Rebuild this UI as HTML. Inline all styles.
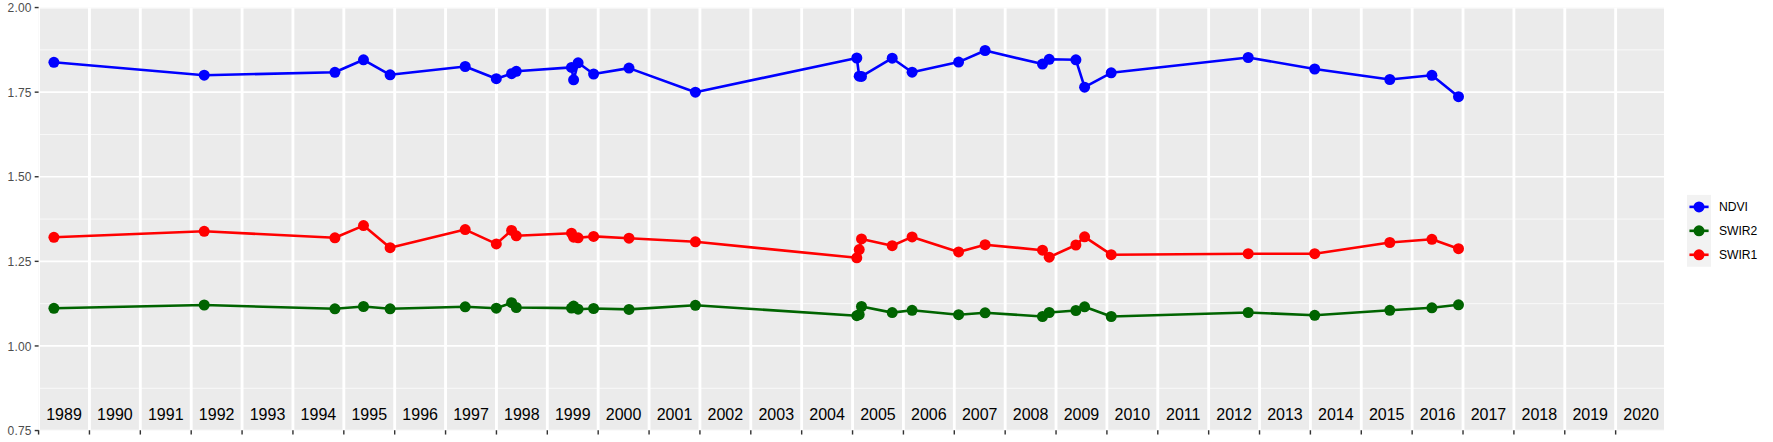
<!DOCTYPE html>
<html><head><meta charset="utf-8"><title>Index time series</title>
<style>
html,body{margin:0;padding:0;background:#fff;}
svg{display:block;}
text{font-family:"Liberation Sans",Arial,Helvetica,sans-serif;}
.yl{font-size:12px;fill:#4D4D4D;letter-spacing:0.22px;}
.xl{font-size:16px;fill:#000;text-anchor:middle;}
.lg{font-size:12.15px;fill:#000;}
</style></head><body>
<svg width="1773" height="442" viewBox="0 0 1773 442">
<rect width="1773" height="442" fill="#fff"/>
<defs><clipPath id="pc"><rect x="38.6" y="7.55" width="1625.4" height="423.0"/></clipPath></defs>
<rect x="38.6" y="7.55" width="1625.4" height="423.0" fill="#EBEBEB"/>
<g clip-path="url(#pc)">
<g stroke="#fff" stroke-width="0.71">
<line x1="38.6" x2="1664.0" y1="49.85" y2="49.85"/>
<line x1="38.6" x2="1664.0" y1="134.45" y2="134.45"/>
<line x1="38.6" x2="1664.0" y1="219.05" y2="219.05"/>
<line x1="38.6" x2="1664.0" y1="303.65" y2="303.65"/>
<line x1="38.6" x2="1664.0" y1="388.25" y2="388.25"/>
</g>
<g stroke="#fff" stroke-width="1.7">
<line x1="38.6" x2="1664.0" y1="7.55" y2="7.55"/>
<line x1="38.6" x2="1664.0" y1="92.15" y2="92.15"/>
<line x1="38.6" x2="1664.0" y1="176.75" y2="176.75"/>
<line x1="38.6" x2="1664.0" y1="261.35" y2="261.35"/>
<line x1="38.6" x2="1664.0" y1="345.95" y2="345.95"/>
<line x1="38.6" x2="1664.0" y1="430.55" y2="430.55"/>
</g>
<g stroke="#fff" stroke-width="2.85">
<line x1="38.58" x2="38.58" y1="7.55" y2="430.55"/>
<line x1="89.45" x2="89.45" y1="7.55" y2="430.55"/>
<line x1="140.33" x2="140.33" y1="7.55" y2="430.55"/>
<line x1="191.20" x2="191.20" y1="7.55" y2="430.55"/>
<line x1="242.07" x2="242.07" y1="7.55" y2="430.55"/>
<line x1="292.94" x2="292.94" y1="7.55" y2="430.55"/>
<line x1="343.82" x2="343.82" y1="7.55" y2="430.55"/>
<line x1="394.69" x2="394.69" y1="7.55" y2="430.55"/>
<line x1="445.56" x2="445.56" y1="7.55" y2="430.55"/>
<line x1="496.44" x2="496.44" y1="7.55" y2="430.55"/>
<line x1="547.31" x2="547.31" y1="7.55" y2="430.55"/>
<line x1="598.18" x2="598.18" y1="7.55" y2="430.55"/>
<line x1="649.06" x2="649.06" y1="7.55" y2="430.55"/>
<line x1="699.93" x2="699.93" y1="7.55" y2="430.55"/>
<line x1="750.80" x2="750.80" y1="7.55" y2="430.55"/>
<line x1="801.67" x2="801.67" y1="7.55" y2="430.55"/>
<line x1="852.55" x2="852.55" y1="7.55" y2="430.55"/>
<line x1="903.42" x2="903.42" y1="7.55" y2="430.55"/>
<line x1="954.29" x2="954.29" y1="7.55" y2="430.55"/>
<line x1="1005.17" x2="1005.17" y1="7.55" y2="430.55"/>
<line x1="1056.04" x2="1056.04" y1="7.55" y2="430.55"/>
<line x1="1106.91" x2="1106.91" y1="7.55" y2="430.55"/>
<line x1="1157.79" x2="1157.79" y1="7.55" y2="430.55"/>
<line x1="1208.66" x2="1208.66" y1="7.55" y2="430.55"/>
<line x1="1259.53" x2="1259.53" y1="7.55" y2="430.55"/>
<line x1="1310.40" x2="1310.40" y1="7.55" y2="430.55"/>
<line x1="1361.28" x2="1361.28" y1="7.55" y2="430.55"/>
<line x1="1412.15" x2="1412.15" y1="7.55" y2="430.55"/>
<line x1="1463.02" x2="1463.02" y1="7.55" y2="430.55"/>
<line x1="1513.90" x2="1513.90" y1="7.55" y2="430.55"/>
<line x1="1564.77" x2="1564.77" y1="7.55" y2="430.55"/>
<line x1="1615.64" x2="1615.64" y1="7.55" y2="430.55"/>
</g>
<polyline points="53.9,62.3 204.2,75.2 334.9,72.3 363.5,59.8 390.1,74.8 465.2,66.5 496.3,78.7 511.6,73.7 516.3,71.3 571.5,67.4 573.6,79.8 578.1,62.8 593.6,74.0 629.0,68.1 695.4,92.2 856.8,58.0 859.2,76.2 861.5,76.4 892.2,58.2 912.1,72.2 958.6,62.1 985.1,50.5 1042.5,64.1 1049.2,59.3 1075.9,59.8 1084.6,87.2 1111.2,72.8 1248.2,57.5 1314.7,69.0 1389.8,79.5 1431.9,75.3 1458.5,96.7" fill="none" stroke="#0000FF" stroke-width="2.6" stroke-linejoin="round" stroke-linecap="butt"/>
<polyline points="53.9,237.3 204.2,231.3 334.9,237.8 363.5,225.6 390.1,247.7 465.2,229.6 496.3,243.9 511.6,230.4 516.3,235.8 571.5,233.2 573.6,237.2 578.1,237.8 593.6,236.4 629.0,238.2 695.4,241.8 856.8,257.8 859.2,249.6 861.5,238.9 892.2,245.7 912.1,236.9 958.6,251.9 985.1,244.7 1042.5,250.2 1049.2,257.2 1075.9,245.0 1084.6,236.8 1111.2,254.7 1248.2,253.7 1314.7,253.7 1389.8,242.5 1431.9,239.3 1458.5,248.7" fill="none" stroke="#FF0000" stroke-width="2.6" stroke-linejoin="round" stroke-linecap="butt"/>
<polyline points="53.9,308.3 204.2,305.0 334.9,308.8 363.5,306.5 390.1,308.8 465.2,306.8 496.3,308.2 511.6,302.7 516.3,307.5 571.5,308.1 573.6,306.1 578.1,309.2 593.6,308.5 629.0,309.4 695.4,305.3 856.8,315.7 859.2,314.6 861.5,306.5 892.2,312.6 912.1,310.3 958.6,314.7 985.1,312.8 1042.5,316.5 1049.2,312.5 1075.9,310.5 1084.6,306.8 1111.2,316.5 1248.2,312.5 1314.7,315.3 1389.8,310.3 1431.9,307.8 1458.5,304.8" fill="none" stroke="#006400" stroke-width="2.6" stroke-linejoin="round" stroke-linecap="butt"/>
<g fill="#0000FF">
<circle cx="53.9" cy="62.3" r="5.5"/>
<circle cx="204.2" cy="75.2" r="5.5"/>
<circle cx="334.9" cy="72.3" r="5.5"/>
<circle cx="363.5" cy="59.8" r="5.5"/>
<circle cx="390.1" cy="74.8" r="5.5"/>
<circle cx="465.2" cy="66.5" r="5.5"/>
<circle cx="496.3" cy="78.7" r="5.5"/>
<circle cx="511.6" cy="73.7" r="5.5"/>
<circle cx="516.3" cy="71.3" r="5.5"/>
<circle cx="571.5" cy="67.4" r="5.5"/>
<circle cx="573.6" cy="79.8" r="5.5"/>
<circle cx="578.1" cy="62.8" r="5.5"/>
<circle cx="593.6" cy="74.0" r="5.5"/>
<circle cx="629.0" cy="68.1" r="5.5"/>
<circle cx="695.4" cy="92.2" r="5.5"/>
<circle cx="856.8" cy="58.0" r="5.5"/>
<circle cx="859.2" cy="76.2" r="5.5"/>
<circle cx="861.5" cy="76.4" r="5.5"/>
<circle cx="892.2" cy="58.2" r="5.5"/>
<circle cx="912.1" cy="72.2" r="5.5"/>
<circle cx="958.6" cy="62.1" r="5.5"/>
<circle cx="985.1" cy="50.5" r="5.5"/>
<circle cx="1042.5" cy="64.1" r="5.5"/>
<circle cx="1049.2" cy="59.3" r="5.5"/>
<circle cx="1075.9" cy="59.8" r="5.5"/>
<circle cx="1084.6" cy="87.2" r="5.5"/>
<circle cx="1111.2" cy="72.8" r="5.5"/>
<circle cx="1248.2" cy="57.5" r="5.5"/>
<circle cx="1314.7" cy="69.0" r="5.5"/>
<circle cx="1389.8" cy="79.5" r="5.5"/>
<circle cx="1431.9" cy="75.3" r="5.5"/>
<circle cx="1458.5" cy="96.7" r="5.5"/>
</g>
<g fill="#FF0000">
<circle cx="53.9" cy="237.3" r="5.5"/>
<circle cx="204.2" cy="231.3" r="5.5"/>
<circle cx="334.9" cy="237.8" r="5.5"/>
<circle cx="363.5" cy="225.6" r="5.5"/>
<circle cx="390.1" cy="247.7" r="5.5"/>
<circle cx="465.2" cy="229.6" r="5.5"/>
<circle cx="496.3" cy="243.9" r="5.5"/>
<circle cx="511.6" cy="230.4" r="5.5"/>
<circle cx="516.3" cy="235.8" r="5.5"/>
<circle cx="571.5" cy="233.2" r="5.5"/>
<circle cx="573.6" cy="237.2" r="5.5"/>
<circle cx="578.1" cy="237.8" r="5.5"/>
<circle cx="593.6" cy="236.4" r="5.5"/>
<circle cx="629.0" cy="238.2" r="5.5"/>
<circle cx="695.4" cy="241.8" r="5.5"/>
<circle cx="856.8" cy="257.8" r="5.5"/>
<circle cx="859.2" cy="249.6" r="5.5"/>
<circle cx="861.5" cy="238.9" r="5.5"/>
<circle cx="892.2" cy="245.7" r="5.5"/>
<circle cx="912.1" cy="236.9" r="5.5"/>
<circle cx="958.6" cy="251.9" r="5.5"/>
<circle cx="985.1" cy="244.7" r="5.5"/>
<circle cx="1042.5" cy="250.2" r="5.5"/>
<circle cx="1049.2" cy="257.2" r="5.5"/>
<circle cx="1075.9" cy="245.0" r="5.5"/>
<circle cx="1084.6" cy="236.8" r="5.5"/>
<circle cx="1111.2" cy="254.7" r="5.5"/>
<circle cx="1248.2" cy="253.7" r="5.5"/>
<circle cx="1314.7" cy="253.7" r="5.5"/>
<circle cx="1389.8" cy="242.5" r="5.5"/>
<circle cx="1431.9" cy="239.3" r="5.5"/>
<circle cx="1458.5" cy="248.7" r="5.5"/>
</g>
<g fill="#006400">
<circle cx="53.9" cy="308.3" r="5.5"/>
<circle cx="204.2" cy="305.0" r="5.5"/>
<circle cx="334.9" cy="308.8" r="5.5"/>
<circle cx="363.5" cy="306.5" r="5.5"/>
<circle cx="390.1" cy="308.8" r="5.5"/>
<circle cx="465.2" cy="306.8" r="5.5"/>
<circle cx="496.3" cy="308.2" r="5.5"/>
<circle cx="511.6" cy="302.7" r="5.5"/>
<circle cx="516.3" cy="307.5" r="5.5"/>
<circle cx="571.5" cy="308.1" r="5.5"/>
<circle cx="573.6" cy="306.1" r="5.5"/>
<circle cx="578.1" cy="309.2" r="5.5"/>
<circle cx="593.6" cy="308.5" r="5.5"/>
<circle cx="629.0" cy="309.4" r="5.5"/>
<circle cx="695.4" cy="305.3" r="5.5"/>
<circle cx="856.8" cy="315.7" r="5.5"/>
<circle cx="859.2" cy="314.6" r="5.5"/>
<circle cx="861.5" cy="306.5" r="5.5"/>
<circle cx="892.2" cy="312.6" r="5.5"/>
<circle cx="912.1" cy="310.3" r="5.5"/>
<circle cx="958.6" cy="314.7" r="5.5"/>
<circle cx="985.1" cy="312.8" r="5.5"/>
<circle cx="1042.5" cy="316.5" r="5.5"/>
<circle cx="1049.2" cy="312.5" r="5.5"/>
<circle cx="1075.9" cy="310.5" r="5.5"/>
<circle cx="1084.6" cy="306.8" r="5.5"/>
<circle cx="1111.2" cy="316.5" r="5.5"/>
<circle cx="1248.2" cy="312.5" r="5.5"/>
<circle cx="1314.7" cy="315.3" r="5.5"/>
<circle cx="1389.8" cy="310.3" r="5.5"/>
<circle cx="1431.9" cy="307.8" r="5.5"/>
<circle cx="1458.5" cy="304.8" r="5.5"/>
</g>
</g>
<g stroke="#333333" stroke-width="1.42">
<line x1="34.70" x2="38.6" y1="7.55" y2="7.55"/>
<line x1="34.70" x2="38.6" y1="92.15" y2="92.15"/>
<line x1="34.70" x2="38.6" y1="176.75" y2="176.75"/>
<line x1="34.70" x2="38.6" y1="261.35" y2="261.35"/>
<line x1="34.70" x2="38.6" y1="345.95" y2="345.95"/>
<line x1="34.70" x2="38.6" y1="430.55" y2="430.55"/>
<line x1="38.58" x2="38.58" y1="430.25" y2="434.55"/>
<line x1="89.45" x2="89.45" y1="430.25" y2="434.55"/>
<line x1="140.33" x2="140.33" y1="430.25" y2="434.55"/>
<line x1="191.20" x2="191.20" y1="430.25" y2="434.55"/>
<line x1="242.07" x2="242.07" y1="430.25" y2="434.55"/>
<line x1="292.94" x2="292.94" y1="430.25" y2="434.55"/>
<line x1="343.82" x2="343.82" y1="430.25" y2="434.55"/>
<line x1="394.69" x2="394.69" y1="430.25" y2="434.55"/>
<line x1="445.56" x2="445.56" y1="430.25" y2="434.55"/>
<line x1="496.44" x2="496.44" y1="430.25" y2="434.55"/>
<line x1="547.31" x2="547.31" y1="430.25" y2="434.55"/>
<line x1="598.18" x2="598.18" y1="430.25" y2="434.55"/>
<line x1="649.06" x2="649.06" y1="430.25" y2="434.55"/>
<line x1="699.93" x2="699.93" y1="430.25" y2="434.55"/>
<line x1="750.80" x2="750.80" y1="430.25" y2="434.55"/>
<line x1="801.67" x2="801.67" y1="430.25" y2="434.55"/>
<line x1="852.55" x2="852.55" y1="430.25" y2="434.55"/>
<line x1="903.42" x2="903.42" y1="430.25" y2="434.55"/>
<line x1="954.29" x2="954.29" y1="430.25" y2="434.55"/>
<line x1="1005.17" x2="1005.17" y1="430.25" y2="434.55"/>
<line x1="1056.04" x2="1056.04" y1="430.25" y2="434.55"/>
<line x1="1106.91" x2="1106.91" y1="430.25" y2="434.55"/>
<line x1="1157.79" x2="1157.79" y1="430.25" y2="434.55"/>
<line x1="1208.66" x2="1208.66" y1="430.25" y2="434.55"/>
<line x1="1259.53" x2="1259.53" y1="430.25" y2="434.55"/>
<line x1="1310.40" x2="1310.40" y1="430.25" y2="434.55"/>
<line x1="1361.28" x2="1361.28" y1="430.25" y2="434.55"/>
<line x1="1412.15" x2="1412.15" y1="430.25" y2="434.55"/>
<line x1="1463.02" x2="1463.02" y1="430.25" y2="434.55"/>
<line x1="1513.90" x2="1513.90" y1="430.25" y2="434.55"/>
<line x1="1564.77" x2="1564.77" y1="430.25" y2="434.55"/>
<line x1="1615.64" x2="1615.64" y1="430.25" y2="434.55"/>
</g>
<text class="yl" x="7.5" y="12.15">2.00</text>
<text class="yl" x="7.5" y="96.75">1.75</text>
<text class="yl" x="7.5" y="181.35">1.50</text>
<text class="yl" x="7.5" y="265.95">1.25</text>
<text class="yl" x="7.5" y="350.55">1.00</text>
<text class="yl" x="7.5" y="435.15">0.75</text>
<text class="xl" x="64.02" y="419.6">1989</text>
<text class="xl" x="114.89" y="419.6">1990</text>
<text class="xl" x="165.76" y="419.6">1991</text>
<text class="xl" x="216.64" y="419.6">1992</text>
<text class="xl" x="267.51" y="419.6">1993</text>
<text class="xl" x="318.38" y="419.6">1994</text>
<text class="xl" x="369.25" y="419.6">1995</text>
<text class="xl" x="420.13" y="419.6">1996</text>
<text class="xl" x="471.00" y="419.6">1997</text>
<text class="xl" x="521.87" y="419.6">1998</text>
<text class="xl" x="572.75" y="419.6">1999</text>
<text class="xl" x="623.62" y="419.6">2000</text>
<text class="xl" x="674.49" y="419.6">2001</text>
<text class="xl" x="725.37" y="419.6">2002</text>
<text class="xl" x="776.24" y="419.6">2003</text>
<text class="xl" x="827.11" y="419.6">2004</text>
<text class="xl" x="877.98" y="419.6">2005</text>
<text class="xl" x="928.86" y="419.6">2006</text>
<text class="xl" x="979.73" y="419.6">2007</text>
<text class="xl" x="1030.60" y="419.6">2008</text>
<text class="xl" x="1081.48" y="419.6">2009</text>
<text class="xl" x="1132.35" y="419.6">2010</text>
<text class="xl" x="1183.22" y="419.6">2011</text>
<text class="xl" x="1234.10" y="419.6">2012</text>
<text class="xl" x="1284.97" y="419.6">2013</text>
<text class="xl" x="1335.84" y="419.6">2014</text>
<text class="xl" x="1386.71" y="419.6">2015</text>
<text class="xl" x="1437.59" y="419.6">2016</text>
<text class="xl" x="1488.46" y="419.6">2017</text>
<text class="xl" x="1539.33" y="419.6">2018</text>
<text class="xl" x="1590.21" y="419.6">2019</text>
<text class="xl" x="1641.08" y="419.6">2020</text>
<rect x="1687.05" y="194.9" width="23.95" height="71.85" fill="#F2F2F2"/>
<line x1="1689.44" x2="1708.61" y1="206.88" y2="206.88" stroke="#0000FF" stroke-width="2.6"/>
<circle cx="1699.02" cy="206.88" r="5.5" fill="#0000FF"/>
<text class="lg" x="1718.9" y="211.07">NDVI</text>
<line x1="1689.44" x2="1708.61" y1="230.82" y2="230.82" stroke="#006400" stroke-width="2.6"/>
<circle cx="1699.02" cy="230.82" r="5.5" fill="#006400"/>
<text class="lg" x="1718.9" y="235.02">SWIR2</text>
<line x1="1689.44" x2="1708.61" y1="254.78" y2="254.78" stroke="#FF0000" stroke-width="2.6"/>
<circle cx="1699.02" cy="254.78" r="5.5" fill="#FF0000"/>
<text class="lg" x="1718.9" y="258.98">SWIR1</text>
</svg>
</body></html>
